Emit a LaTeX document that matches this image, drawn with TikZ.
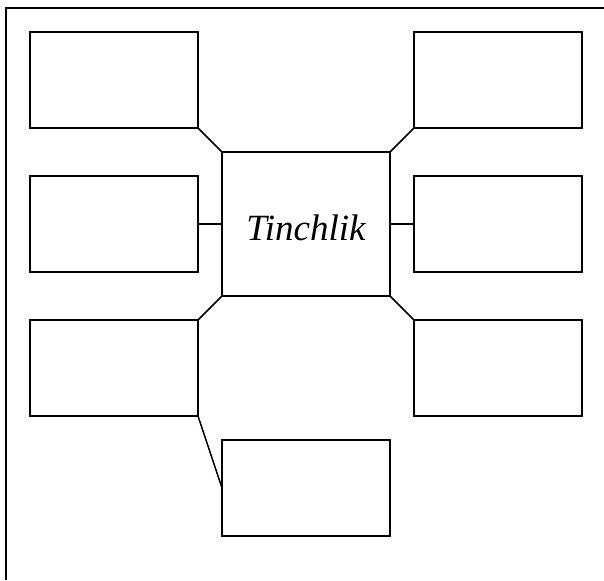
\documentclass[tikz,border=0pt]{standalone}
\usepackage{fontspec}
\setmainfont{Liberation Serif}
\begin{document}
\begin{tikzpicture}[x=1pt,y=-1pt,
  box/.style={draw, line width=1.5pt, minimum width=168pt, minimum height=96pt, inner sep=0pt, outer sep=0pt, anchor=north west},
  conn/.style={draw, line width=1.5pt}]
\useasboundingbox (0,0) rectangle (604,580);
\draw[line width=1.8pt] (6,580) -- (6,8) -- (604,8);
\node[box] (tl) at (30,32) {};
\node[box] (tr) at (414,32) {};
\node[box, minimum height=144pt, font=\fontsize{37}{40}\selectfont\itshape] (c) at (222,152) {\raisebox{-4pt}[\height][\depth]{Tinchlik}};
\node[box] (ml) at (30,176) {};
\node[box] (mr) at (414,176) {};
\node[box] (bl) at (30,320) {};
\node[box] (br) at (414,320) {};
\node[box] (bc) at (222,440) {};
\draw[conn] (tl.south east) -- (c.north west);
\draw[conn] (tr.south west) -- (c.north east);
\draw[conn] (ml.east) -- (c.west);
\draw[conn] (mr.west) -- (c.east);
\draw[conn] (bl.north east) -- (c.south west);
\draw[conn] (br.north west) -- (c.south east);
\draw[conn] (bl.south east) -- (bc.west);
\end{tikzpicture}
\end{document}
